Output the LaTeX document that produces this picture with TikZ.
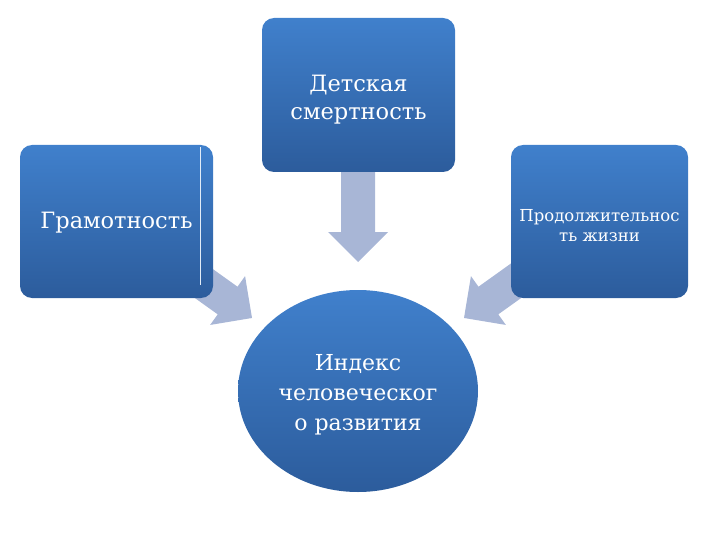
\documentclass[tikz,border=0pt]{standalone}
\usepackage{fontspec}
\setmainfont{DejaVu Serif}
\usetikzlibrary{shapes.geometric}
\definecolor{boxtop}{RGB}{64,128,204}
\definecolor{boxbot}{RGB}{44,92,156}
\definecolor{arrowc}{RGB}{168,182,214}
\tikzset{
  blockbox/.style={rounded corners=12pt, top color=boxtop, bottom color=boxbot, draw=none,
    inner sep=0pt},
  boxtext/.style={text=white, align=center, inner sep=0pt},
  bigtext/.style={font=\fontsize{22.5}{28}\selectfont},
  smalltext/.style={font=\fontsize{16.5}{20}\selectfont},
  blockarrow/.style={fill=arrowc, draw=none}
}
\begin{document}
\begin{tikzpicture}[x=1pt,y=-1pt]
\useasboundingbox (0,0) rectangle (720,540);
% block arrows (behind the shapes)
\begin{scope}[shift={(358,262)}, rotate=-90]
  \fill[blockarrow] (0,0) -- (-30,30) -- (-30,17) -- (-100,17) -- (-100,-17) -- (-30,-17) -- (-30,-30) -- cycle;
\end{scope}
\begin{scope}[shift={(252,318)}, rotate=-35.6]
  \fill[blockarrow] (0,0) -- (-30,30) -- (-30,17) -- (-100,17) -- (-100,-17) -- (-30,-17) -- (-30,-30) -- cycle;
\end{scope}
\begin{scope}[shift={(464,318)}, rotate=-144.4]
  \fill[blockarrow] (0,0) -- (-30,30) -- (-30,17) -- (-100,17) -- (-100,-17) -- (-30,-17) -- (-30,-30) -- cycle;
\end{scope}
% shapes
\node[blockbox, minimum width=193pt, minimum height=154pt] (top) at (358.5,95) {};
\node[blockbox, minimum width=193pt, minimum height=153pt] (left) at (116.5,221.5) {};
\node[blockbox, minimum width=177pt, minimum height=153pt] (right) at (599.5,221.5) {};
\node[ellipse, top color=boxtop, bottom color=boxbot, draw=none,
  inner sep=0pt, minimum width=240pt, minimum height=202pt] (hdi) at (358,391) {};
\draw[white!85!boxtop, line width=0.8pt] ([xshift=-13pt,yshift=-2pt]left.north east) -- ([xshift=-13pt,yshift=13pt]left.south east);
% texts
\node[boxtext, bigtext, yshift=-5pt] (toptext) at (top.center) {Детская\\смертность};
\node[boxtext, bigtext, yshift=-1pt] (lefttext) at (left.center) {Грамотность};
\node[boxtext, smalltext, yshift=-4pt] (righttext) at (right.center) {Продолжительнос\\ть жизни};
\node[boxtext, font=\fontsize{22}{30}\selectfont, yshift=-4pt] (hditext) at (hdi.center) {Индекс\\человеческог\\о развития};
\end{tikzpicture}
\end{document}
